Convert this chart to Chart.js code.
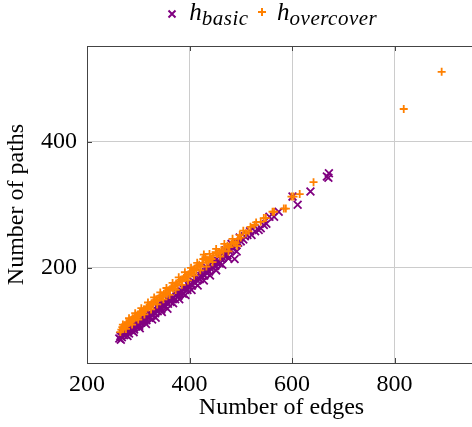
<!DOCTYPE html>
<html>
<head>
<meta charset="utf-8">
<script src="https://cdn.jsdelivr.net/npm/chart.js@4/dist/chart.umd.min.js"></script>
<style>
  html, body { margin: 0; padding: 0; background: #fff; overflow: hidden; }
  #wrap { position: relative; width: 472px; height: 427px; overflow: hidden; }
  #plot { position: absolute; left: 0; top: 0; }
  #legend {
    position: absolute; left: 167px; top: -3px;
    font: italic 25px "Liberation Serif", serif; color: #000;
    white-space: nowrap; line-height: 30px;
  }
  #legend sub { font-size: 21px; vertical-align: -5px; line-height: 0; letter-spacing: 0.5px; }
  #legend svg { vertical-align: 1px; }
</style>
</head>
<body>
<div id="wrap">
  <canvas id="plot" width="476" height="427"></canvas>
  <div id="legend">
    <svg width="10" height="10"><path d="M1.5 1.5 L8.5 8.5 M8.5 1.5 L1.5 8.5" stroke="#800080" stroke-width="2"/></svg>
    <span style="margin-left:6px">h<sub>basic</sub></span>
    <svg width="10" height="10" style="margin-left:2px; vertical-align:3px"><path d="M5 1 L5 9 M1 5 L9 5" stroke="#ff8000" stroke-width="2"/></svg>
    <span style="margin-left:4px">h<sub>overcover</sub></span>
  </div>
</div>
<script>
// h_basic
const basicEdges = [263, 265, 268, 270, 272, 274, 276, 278, 280, 282, 284, 286, 288, 290, 292, 294, 296, 298,
  300, 302, 304, 306, 308, 310, 312, 314, 316, 318, 320, 322, 325, 328, 330, 333, 335, 338, 340, 343, 345, 348,
  350, 352, 355, 358, 360, 363, 366, 369, 372, 375, 378, 381, 384, 387, 390, 393, 396, 399, 402, 405, 408, 411,
  414, 417, 420, 423, 426, 429, 432, 435, 438, 441, 444, 447, 450, 453, 456, 459, 462, 465, 468, 471, 474, 477,
  480, 483, 486, 488, 491, 495, 500, 505, 513, 521, 528, 535, 539, 550, 565, 574, 601, 611, 636, 671, 672,
  266, 271, 279, 285, 291, 297, 303, 309, 315, 321, 327, 334, 339, 346, 351, 357, 362, 368, 374, 380, 386, 392,
  398, 404, 410, 416, 422, 428, 434, 440, 446, 452, 458, 464, 470, 476, 482, 492, 498, 508, 518, 545, 556, 668];
const basicPaths = [88, 92, 90, 95, 93, 97, 94, 99, 100, 96, 103, 101, 104, 106, 102, 108, 107, 110,
  112, 108, 114, 113, 115, 118, 116, 120, 117, 122, 124, 121, 127, 125, 130, 128, 133, 131, 136, 138, 134, 140,
  142, 139, 145, 143, 148, 146, 151, 153, 150, 157, 155, 160, 163, 159, 166, 168, 165, 171, 174, 172, 178, 176,
  181, 184, 182, 187, 190, 188, 193, 196, 194, 199, 201, 205, 203, 208, 211, 207, 214, 216, 219, 222, 220, 227,
  229, 232, 232, 214, 236, 240, 242, 245, 252, 252, 258, 260, 263, 270, 281, 289, 313, 300, 321, 343, 350,
  86, 100, 92, 108, 98, 114, 104, 121, 111, 128, 118, 121, 142, 130, 148, 135, 154, 144, 162, 150, 168, 157,
  176, 165, 184, 172, 193, 180, 200, 188, 210, 196, 218, 205, 228, 215, 238, 226, 248, 250, 258, 268, 281, 345];

// h_overcover
const overEdges = [267, 269, 271, 273, 275, 277, 279, 281, 283, 285, 287, 289, 291, 293, 295, 297, 299, 301,
  303, 305, 307, 309, 311, 313, 316, 318, 320, 323, 326, 329, 332, 335, 338, 341, 344, 347, 350, 353, 356, 359,
  362, 365, 368, 371, 374, 377, 380, 383, 386, 389, 392, 395, 398, 401, 404, 407, 410, 413, 416, 419, 422, 425,
  428, 431, 434, 437, 440, 443, 446, 451, 454, 458, 462, 466, 470, 474, 478, 482, 486, 490, 495, 500, 505, 510,
  519, 527, 539, 545, 549, 562, 565, 584, 588, 599, 603, 615, 642, 818, 892,
  265, 270, 276, 282, 288, 294, 300, 306, 312, 319, 325, 331, 337, 343, 349, 355, 361, 367, 373, 379, 385, 391,
  397, 403, 409, 415, 421, 427, 433, 439, 445, 452, 460, 468, 476, 484, 493, 498, 515, 530];
const overPaths = [102, 106, 104, 109, 107, 112, 110, 114, 113, 117, 115, 120, 118, 122, 124, 121, 126, 125,
  129, 127, 131, 130, 134, 133, 136, 139, 137, 141, 144, 142, 147, 150, 148, 153, 156, 154, 159, 161, 158, 164,
  166, 169, 167, 172, 175, 173, 178, 181, 179, 184, 187, 185, 190, 193, 191, 197, 199, 196, 203, 205, 202, 208,
  221, 217, 212, 210, 216, 214, 219, 225, 222, 224, 228, 226, 232, 235, 233, 238, 241, 239, 246, 248, 259, 255,
  265, 268, 273, 279, 279, 289, 289, 294, 294, 313, 313, 317, 336, 452, 511,
  98, 110, 103, 120, 110, 128, 118, 136, 126, 145, 134, 153, 142, 161, 150, 168, 157, 176, 165, 185, 173, 193,
  180, 200, 188, 208, 196, 214, 202, 222, 209, 230, 218, 238, 226, 246, 235, 252, 258, 272];

const xTicks = [200, 400, 600, 800];
const yTicks = [200, 400];

const serif = "'Liberation Serif', 'Times New Roman', serif";
const purple = "#800080";
const orange = "#ff8000";

// cadre du graphe (haut) + petites graduations vers l'intérieur
const framePlugin = {
  id: "frame",
  beforeDatasetsDraw(chart) {
    const { ctx, chartArea: a, scales } = chart;
    ctx.save();
    ctx.strokeStyle = "#444";
    ctx.lineWidth = 1;
    ctx.beginPath();
    ctx.moveTo(a.left, a.top + 0.5);
    ctx.lineTo(a.right, a.top + 0.5);
    xTicks.forEach(v => {
      const px = Math.round(scales.x.getPixelForValue(v)) + 0.5;
      ctx.moveTo(px, a.bottom); ctx.lineTo(px, a.bottom - 5);
      ctx.moveTo(px, a.top); ctx.lineTo(px, a.top + 5);
    });
    yTicks.forEach(v => {
      const py = Math.round(scales.y.getPixelForValue(v)) + 0.5;
      ctx.moveTo(a.left, py); ctx.lineTo(a.left + 5, py);
    });
    ctx.stroke();
    ctx.restore();
  }
};

new Chart(document.getElementById("plot"), {
  type: "scatter",
  data: {
    datasets: [
      {
        label: "h_basic",
        data: basicEdges.map((x, i) => ({ x: x, y: basicPaths[i] })),
        pointStyle: "crossRot",
        pointRadius: 5.5,
        pointBorderWidth: 1.8,
        borderColor: purple,
        backgroundColor: purple,
        order: 2
      },
      {
        label: "h_overcover",
        data: overEdges.map((x, i) => ({ x: x, y: overPaths[i] })),
        pointStyle: "cross",
        pointRadius: 4,
        pointBorderWidth: 1.8,
        borderColor: orange,
        backgroundColor: orange,
        order: 1
      }
    ]
  },
  options: {
    responsive: false,
    animation: false,
    layout: { autoPadding: false, padding: { top: 46, left: 0, right: 0, bottom: 0 } },
    plugins: { legend: { display: false }, tooltip: { enabled: false } },
    scales: {
      x: {
        type: "linear",
        min: 200,
        max: 959,
        afterBuildTicks: s => { s.ticks = xTicks.map(v => ({ value: v })); },
        afterFit: s => { s.height = 64; s.paddingLeft = 0; s.paddingRight = 0; },
        grid: { color: "#cccccc", drawTicks: false },
        border: { color: "#444", width: 1 },
        ticks: { color: "#000", padding: 7, font: { family: serif, size: 24 } },
        title: {
          display: true,
          text: "Number of edges",
          color: "#000",
          font: { family: serif, size: 24 },
          padding: { top: 0, bottom: 4.6 }
        }
      },
      y: {
        type: "linear",
        min: 49,
        max: 552,
        afterBuildTicks: s => { s.ticks = yTicks.map(v => ({ value: v })); },
        afterFit: s => { s.width = 87; s.paddingTop = 0; s.paddingBottom = 0; },
        grid: { color: "#cccccc", drawTicks: false },
        border: { color: "#444", width: 1 },
        ticks: { color: "#000", padding: 10, font: { family: serif, size: 24 } },
        title: {
          display: true,
          text: "Number of paths",
          color: "#000",
          font: { family: serif, size: 24 },
          padding: { top: 2.6, bottom: 0 }
        }
      }
    }
  },
  plugins: [framePlugin]
});
</script>
</body>
</html>
